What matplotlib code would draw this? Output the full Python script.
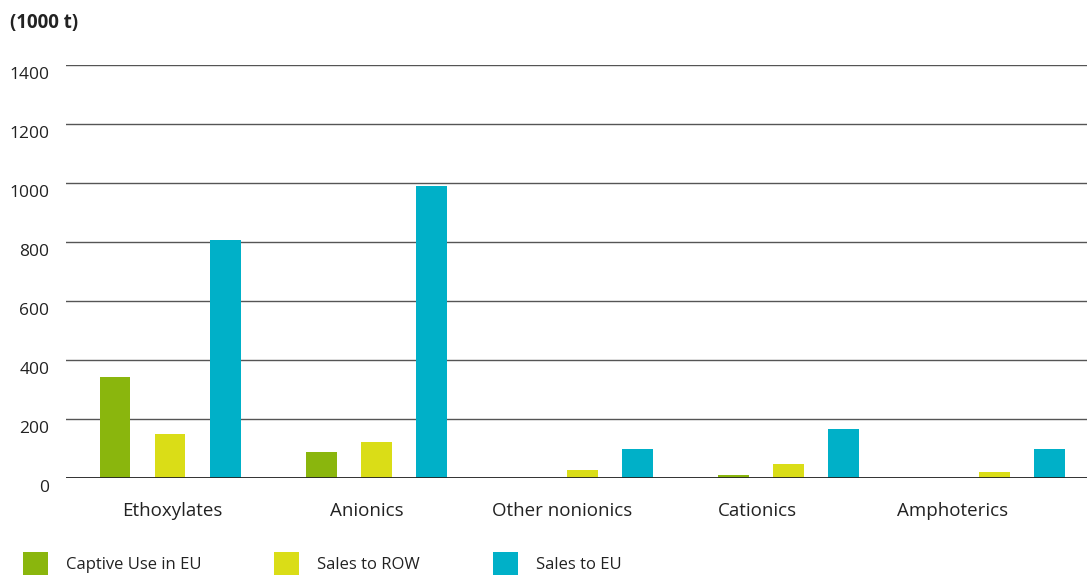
import matplotlib
matplotlib.use("Agg")
from matplotlib import pyplot as plt
from matplotlib.patches import Patch
from matplotlib.transforms import ScaledTranslation
import numpy as np

plt.rcParams['font.family'] = ['Open Sans', 'DejaVu Sans']

categories = ['Ethoxylates', 'Anionics', 'Other nonionics', 'Cationics', 'Amphoterics']
captive_eu = [342, 88, 0, 10, 0]
sales_row = [149, 122, 27, 47, 20]
sales_eu = [807, 990, 98, 166, 98]
series_names = ['Captive Use in EU', 'Sales to ROW', 'Sales to EU']
colors = ['#8AB60D', '#DADD17', '#00B0C8']

fig = plt.figure(figsize=(10.87, 5.75), dpi=100)
ax = fig.add_axes([0.0607, 0.1687, 0.9393, 0.7183])

x = np.arange(len(categories))
w = 0.15
off = 0.267
for i, vals in enumerate([captive_eu, sales_row, sales_eu]):
    ax.bar(x + (i - 1) * off, vals, width=w, color=colors[i], zorder=3)

ax.set_xlim(-0.505, 4.45)
ax.set_ylim(0, 1400)
ax.set_yticks(range(0, 1401, 200))
ax.grid(axis='y', color='#555555', linewidth=1.0, zorder=0)
ax.axhline(0, color='#222222', linewidth=2.0, zorder=4)
for s in ax.spines.values():
    s.set_visible(False)

# category labels in the original sit on a slightly tighter spacing than the bar groups
ax.set_xticks(x * 0.947 + 0.01)
ax.set_xticklabels(categories, fontsize=13.5, color='#222222')
ax.tick_params(axis='x', length=0, pad=17)
ax.tick_params(axis='y', length=0, pad=12, labelsize=12.5, labelcolor='#222222')
shift = ScaledTranslation(0, -8 / 100, fig.dpi_scale_trans)
for lab in ax.get_yticklabels():
    lab.set_transform(lab.get_transform() + shift)
    lab.set_clip_on(False)

fig.text(10 / 1087, 1 - 23 / 575, '(1000 t)', fontsize=13.5, fontweight='bold',
         color='#222222', va='center', ha='left')

handles = [Patch(facecolor=c, edgecolor='none') for c in colors]
fig.legend(handles, series_names, loc='lower left', bbox_to_anchor=(0.007, -0.027),
           ncol=3, frameon=False, fontsize=12, handlelength=1.5, handleheight=1.75,
           handletextpad=1.1, columnspacing=4.35, labelcolor='#222222')

fig.savefig('out.png', dpi=100)
